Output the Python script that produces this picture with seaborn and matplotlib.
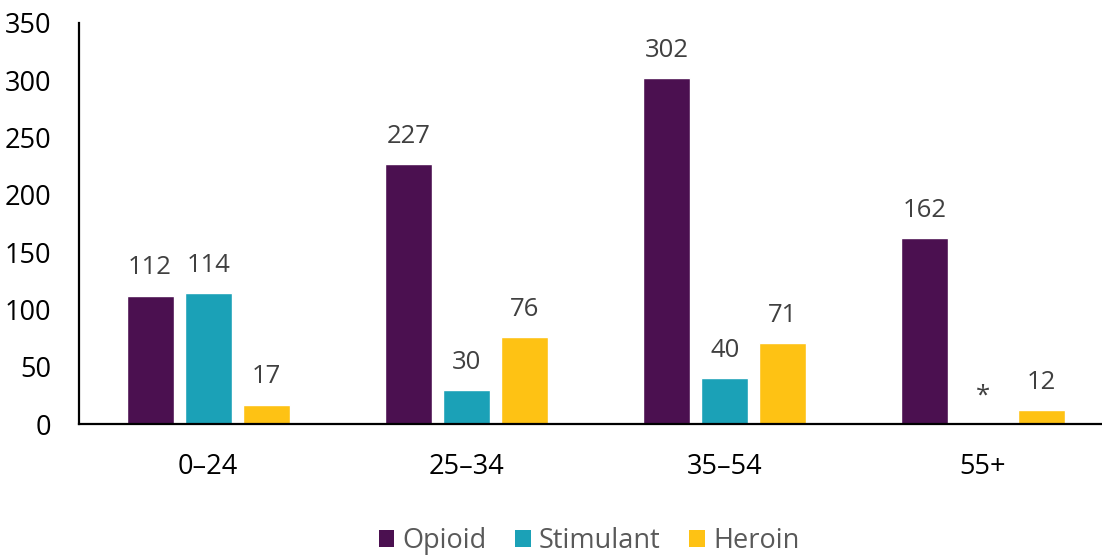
import matplotlib
matplotlib.use("Agg")
import matplotlib.pyplot as plt
import seaborn as sns
import pandas as pd
import numpy as np
from matplotlib.patches import Patch

categories = ["0\u201324", "25\u201334", "35\u201354", "55+"]
series = ["Opioid", "Stimulant", "Heroin"]
opioid = [112, 227, 302, 162]
stimulant = [114, 30, 40, 0]   # 55+ suppressed (shown as *)
heroin = [17, 76, 71, 12]
labels_opioid = ["112", "227", "302", "162"]
labels_stimulant = ["114", "30", "40", "*"]
labels_heroin = ["17", "76", "71", "12"]
colors = ["#4B1050", "#1BA1B7", "#FEC214"]

rows = []
for s, vals in zip(series, [opioid, stimulant, heroin]):
    for c, v in zip(categories, vals):
        rows.append({"Age": c, "Drug": s, "Value": v})
df = pd.DataFrame(rows)

sns.set_theme(style="white")
plt.rcParams["font.family"] = ["Open Sans", "DejaVu Sans"]

fig = plt.figure(figsize=(11.02, 5.56), dpi=100)
ax = fig.add_axes([0.0717, 0.237, 0.9375, 0.722])

sns.barplot(data=df, x="Age", y="Value", hue="Drug", order=categories,
            hue_order=series, palette=colors, width=0.675, gap=0.19,
            saturation=1, legend=False, ax=ax, errorbar=None)

ax.set_xlim(-0.5, 3.5)
ax.set_ylim(0, 350)
ax.set_yticks(np.arange(0, 351, 50))
ax.tick_params(axis="both", length=0, labelsize=19.5, colors="black")
ax.tick_params(axis="x", pad=21)
ax.tick_params(axis="y", pad=20)
ax.set_xlabel("")
ax.set_ylabel("")
for sp in ["top", "right"]:
    ax.spines[sp].set_visible(False)
for sp in ["left", "bottom"]:
    ax.spines[sp].set_color("black")
    ax.spines[sp].set_linewidth(1.6)

for cont, labs in zip(ax.containers, [labels_opioid, labels_stimulant, labels_heroin]):
    for bar, lab in zip(cont, labs):
        h = bar.get_height()
        x = bar.get_x() + bar.get_width() / 2
        ax.annotate(lab, (x, h), xytext=(0, 11), textcoords="offset points",
                    ha="center", va="bottom", fontsize=18.5, color="#404040")

handles = [Patch(facecolor=c, edgecolor="none", label=s) for c, s in zip(colors, series)]
leg = fig.legend(handles=handles, loc="center", bbox_to_anchor=(0.5345, 0.027),
                 ncol=3, frameon=False, fontsize=19.5, handlelength=0.58,
                 handleheight=0.58, handletextpad=0.3, columnspacing=1.05)
for t in leg.get_texts():
    t.set_color("#595959")

fig.savefig("out.png", dpi=100)
